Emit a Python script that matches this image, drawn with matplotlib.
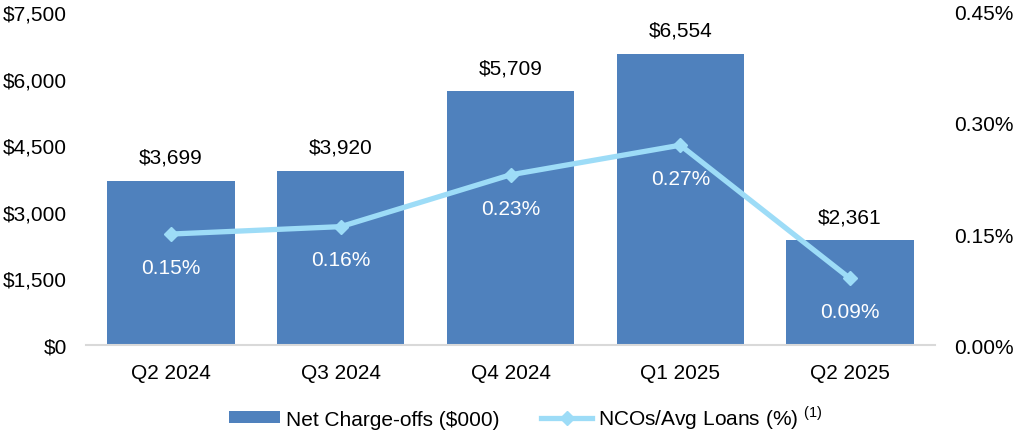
import numpy as np
import matplotlib
matplotlib.use("Agg")
import matplotlib.pyplot as plt
from matplotlib.ticker import FuncFormatter

plt.rcParams['font.family'] = ['Liberation Sans', 'DejaVu Sans']
plt.rcParams['mathtext.fontset'] = 'custom'
plt.rcParams['mathtext.rm'] = 'Liberation Sans'

# data
quarters = ['Q2 2024', 'Q3 2024', 'Q4 2024', 'Q1 2025', 'Q2 2025']
net_chargeoffs = [3699, 3920, 5709, 6554, 2361]
nco_ratio = [0.15, 0.16, 0.23, 0.27, 0.09]

bar_color = '#4F81BD'
line_color = '#9DDCF7'
fs = 15

fig = plt.figure(figsize=(10.15, 4.31), dpi=100)
ax = fig.add_axes([0.085, 0.197, 0.836, 0.773])
ax2 = ax.twinx()

x = np.arange(len(quarters))
ax.bar(x, net_chargeoffs, width=0.75, color=bar_color, zorder=2,
       label='Net Charge-offs ($000)')
for xi, v in zip(x, net_chargeoffs):
    ax.annotate(f'${v:,}', (xi, v), xytext=(0, 17), textcoords='offset points',
                ha='center', va='center', fontsize=fs)

ax.set_xlim(-0.5, len(quarters) - 0.5)
ax.set_ylim(0, 7500)
ax.set_yticks(np.arange(0, 7501, 1500))
ax.yaxis.set_major_formatter(FuncFormatter(lambda v, p: f'${v:,.0f}'))
ax.set_xticks(x)
ax.set_xticklabels(quarters)

ax2.plot(x, nco_ratio, color=line_color, lw=3.8, marker='D', markersize=7,
         zorder=3, label='NCOs/Avg Loans (%) $^{(1)}$')
for xi, v in zip(x, nco_ratio):
    ax2.annotate(f'{v:.2f}%', (xi, v), xytext=(0, -24), textcoords='offset points',
                 ha='center', va='center', fontsize=fs, color='white')
ax2.set_ylim(0, 0.45)
ax2.set_yticks([0, 0.15, 0.30, 0.45])
ax2.yaxis.set_major_formatter(FuncFormatter(lambda v, p: f'{v:.2f}%'))

for a in (ax, ax2):
    for s in a.spines.values():
        s.set_visible(False)
    a.tick_params(length=0, labelsize=fs, colors='black')
ax.spines['bottom'].set_visible(True)
ax.spines['bottom'].set_color('#D9D9D9')
ax.spines['bottom'].set_linewidth(1.5)
ax.tick_params(axis='y', pad=14)
ax.tick_params(axis='x', pad=13)
ax2.tick_params(axis='y', pad=14)

h1, l1 = ax.get_legend_handles_labels()
h2, l2 = ax2.get_legend_handles_labels()
fig.legend(h1 + h2, l1 + l2, loc='center', bbox_to_anchor=(0.518, 0.03),
           ncol=2, frameon=False, fontsize=fs, handlelength=2.45,
           handletextpad=0.3, columnspacing=2.0, handleheight=0.55)

fig.savefig('out.png', dpi=100)
